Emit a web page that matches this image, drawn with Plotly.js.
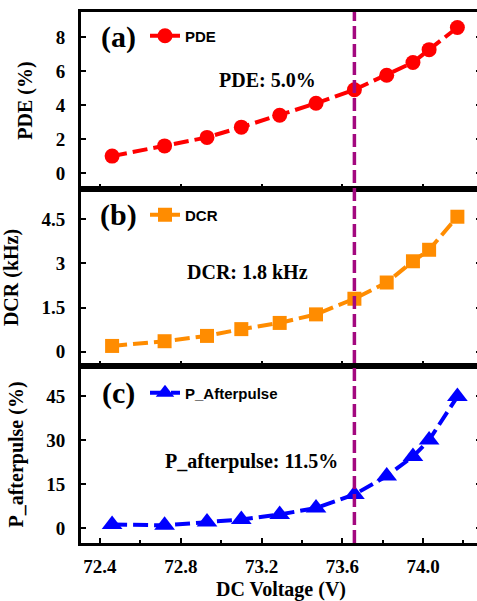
<!DOCTYPE html>
<html>
<head>
<meta charset="utf-8">
<script src="https://cdn.plot.ly/plotly-3.0.1.min.js"></script>
<style>
  html, body { margin: 0; padding: 0; overflow: hidden; background: #fff; }
  #chart { width: 483px; height: 601px; }
</style>
</head>
<body>
<div id="chart"></div>
<script>
// ---- data ----
const voltage = [72.46, 72.72, 72.93, 73.10, 73.29, 73.47, 73.66, 73.82, 73.95, 74.03, 74.17];
const pde = [1.0, 1.6, 2.1, 2.7, 3.4, 4.1, 4.9, 5.75, 6.5, 7.25, 8.55];
const dcr = [0.2, 0.36, 0.54, 0.77, 0.98, 1.27, 1.8, 2.35, 3.07, 3.46, 4.58];
const afterpulse = [1.3, 1.0, 2.1, 3.0, 4.7, 6.9, 11.5, 17.8, 24.4, 30.0, 44.8];
const operatingVoltage = 73.66;
const seriesNames = ["PDE", "DCR", "P_Afterpulse"];
const panelLabels = ["(a)", "(b)", "(c)"];
const noteTexts = ["PDE: 5.0%", "DCR: 1.8 kHz", "P_afterpulse: 11.5%"];
const yTitles = ["PDE (%)", "DCR (kHz)", "P_afterpulse (%)"];
const xTitle = "DC Voltage (V)";
const pdeTicks = [0, 2, 4, 6, 8];
const dcrTicks = [0, 1.5, 3, 4.5];
const apTicks = [0, 15, 30, 45];

const serif = "Liberation Serif, Times New Roman, serif";
const sans = "Liberation Sans, Arial, sans-serif";
const tickFont = {family: serif, size: 19, color: "#000", weight: "bold"};
const titleFont = {family: serif, size: 20, color: "#000", weight: "bold"};

const traces = [
  {x: voltage, y: pde, name: seriesNames[0], xaxis: "x3", yaxis: "y3", legend: "legend",
   mode: "lines+markers", line: {color: "#ff0000", width: 4, dash: "15px,6px"},
   marker: {symbol: "circle", size: 15, color: "#ff0000"}},
  {x: voltage, y: dcr, name: seriesNames[1], xaxis: "x2", yaxis: "y2", legend: "legend2",
   mode: "lines+markers", line: {color: "#ff8c00", width: 4, dash: "15px,6px"},
   marker: {symbol: "square", size: 14, color: "#ff8c00"}},
  {x: voltage, y: afterpulse, name: seriesNames[2], xaxis: "x", yaxis: "y", legend: "legend3",
   mode: "lines+markers", line: {color: "#0000ff", width: 4, dash: "15px,6px"},
   marker: {symbol: "triangle-up", size: 18, color: "#0000ff"}}
];

const xCommon = {
  range: [72.306, 74.287], tick0: 72.4, dtick: 0.4, tickformat: ".1f",
  ticks: "inside", ticklen: 5, tickwidth: 2, tickcolor: "#000",
  minor: {dtick: 0.2, ticks: "inside", ticklen: 3, tickwidth: 2, tickcolor: "#000"},
  showline: true, linewidth: 3, linecolor: "#000", mirror: true,
  showgrid: false, zeroline: false, tickfont: tickFont, ticklabelstandoff: 4
};
function yCommon(domain, range, ticks, title) {
  return {
    domain: domain, range: range, tickvals: ticks, ticktext: ticks.map(String),
    ticks: "inside", ticklen: 5, tickwidth: 2, tickcolor: "#000",
    showline: true, linewidth: 3, linecolor: "#000", mirror: "ticks",
    showgrid: false, zeroline: false, tickfont: tickFont, ticklabelstandoff: 9,
    title: {text: title, font: titleFont, standoff: 18}
  };
}

const L = 81, R = 481, T = 12, B = 543;
function px(xp) { return (xp - L) / (R - L); }
function py(yp) { return (B - yp) / (B - T); }

const annotations = [];
const labelY = [36.7, 215, 393];
panelLabels.forEach((t, i) => annotations.push({
  text: t, xref: "paper", yref: "paper", x: px(118), y: py(labelY[i]),
  xanchor: "center", yanchor: "middle", showarrow: false,
  font: {family: serif, size: 30, color: "#000", weight: "bold"}
}));
const notePos = [[267, 80], [247, 271.7], [251.7, 461.7]];
noteTexts.forEach((t, i) => annotations.push({
  text: t, xref: "paper", yref: "paper", x: px(notePos[i][0]), y: py(notePos[i][1]),
  xanchor: "center", yanchor: "middle", showarrow: false,
  font: {family: serif, size: 20, color: "#000", weight: "bold"}
}));

function legendAt(yp) {
  return {x: px(145), y: py(yp), xanchor: "left", yanchor: "middle",
    bgcolor: "rgba(0,0,0,0)", borderwidth: 0,
    font: {family: sans, size: 15, color: "#000", weight: "bold"}};
}

const layout = {
  width: 483, height: 601,
  margin: {l: L, r: 483 - R, t: T, b: 601 - B},
  paper_bgcolor: "#fff", plot_bgcolor: "#fff",
  showlegend: true,
  legend: legendAt(36), legend2: legendAt(215), legend3: legendAt(393),
  xaxis: Object.assign({}, xCommon, {anchor: "y", title: {text: xTitle, font: titleFont, standoff: 12}}),
  xaxis2: Object.assign({}, xCommon, {anchor: "y2", matches: "x", showticklabels: false}),
  xaxis3: Object.assign({}, xCommon, {anchor: "y3", matches: "x", showticklabels: false}),
  yaxis: yCommon([0, 1/3], [-5.0, 55.2], apTicks, yTitles[2]),
  yaxis2: yCommon([1/3, 2/3], [-0.48, 5.52], dcrTicks, yTitles[1]),
  yaxis3: yCommon([2/3, 1], [-0.93, 9.46], pdeTicks, yTitles[0]),
  shapes: [{type: "line", xref: "x", yref: "paper", x0: operatingVoltage, x1: operatingVoltage,
    y0: 0, y1: 1, line: {color: "#a3087f", width: 3.5, dash: "13px,5px"}}],
  annotations: annotations
};

Plotly.newPlot("chart", traces, layout, {displayModeBar: false, staticPlot: true});
</script>
</body>
</html>
